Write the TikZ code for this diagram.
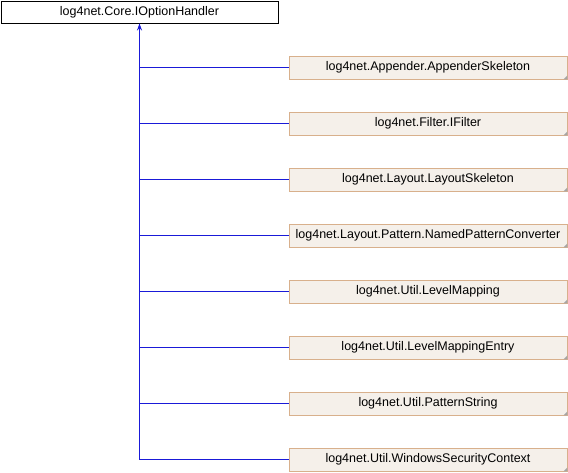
\documentclass[tikz,border=0pt]{standalone}
\usepackage{fontspec}
\setmainfont{Liberation Sans}
\usetikzlibrary{arrows.meta}
\definecolor{edgeblue}{HTML}{1A1AD8}
\definecolor{boxfill}{HTML}{F5F0EA}
\definecolor{boxline}{HTML}{D8B08C}
\tikzset{
  base/.style={draw=black,fill=white,line width=0.9pt,minimum width=277pt,minimum height=22pt,inner sep=0pt,font=\fontsize{12.5}{14}\selectfont},
  derived/.style={draw=boxline,fill=boxfill,line width=0.9pt,minimum width=278pt,minimum height=23pt,inner sep=0pt,font=\fontsize{12.5}{14}\selectfont},
  inheritline/.style={draw=edgeblue,line width=1.1pt}
}
\begin{document}
\begin{tikzpicture}[x=1pt,y=-1pt]
\useasboundingbox (0,0) rectangle (568,472);
\node[base] (handler) at (139.5,12) {log4net.Core.IOptionHandler};
\foreach \name/\txt [count=\i from 0] in {appender/log4net.Appender.AppenderSkeleton,
  filter/log4net.Filter.IFilter,
  layout/log4net.Layout.LayoutSkeleton,
  named/log4net.Layout.Pattern.NamedPatternConverter,
  mapping/log4net.Util.LevelMapping,
  entry/log4net.Util.LevelMappingEntry,
  pattern/log4net.Util.PatternString,
  security/log4net.Util.WindowsSecurityContext}{
  \node[derived] (\name) at (428,67.5+56*\i) {\txt};
  \fill[black!35] (\name.south east) -- ++(-4,0) -- ++(4,-4) -- cycle; % folded corner
}
% the inheritance lines
\foreach \name in {appender,filter,layout,named,mapping,entry,pattern,security}
  \draw[inheritline] (\name.west) -- (\name.west -| handler.south);
\draw[inheritline,-{Stealth[length=7pt,width=5pt]}] (security.west -| handler.south) -- (handler.south);
\end{tikzpicture}
\end{document}
